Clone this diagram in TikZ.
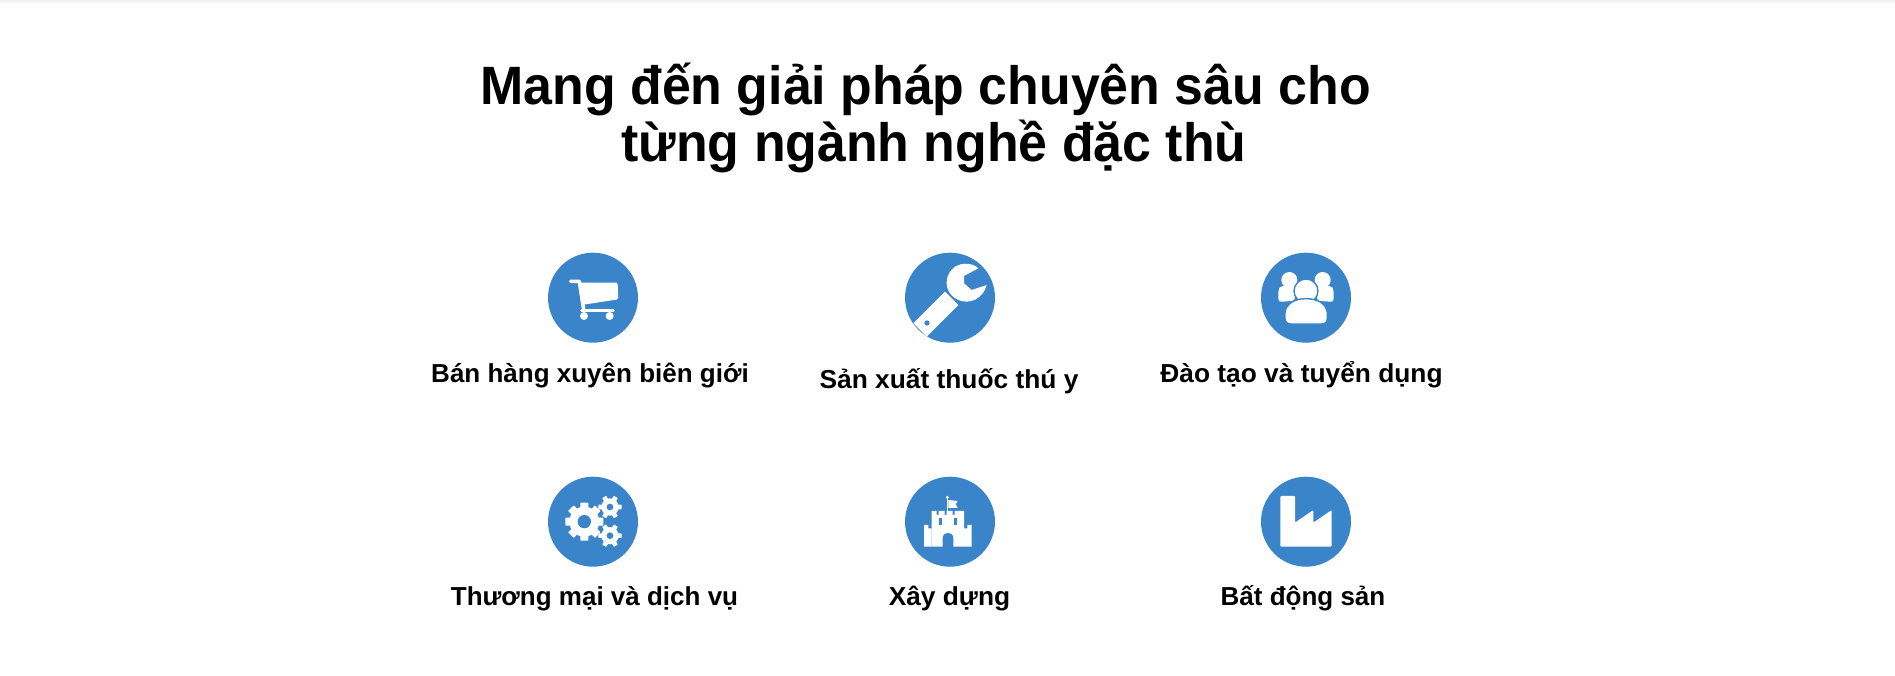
\documentclass[tikz,border=0pt]{standalone}
\usepackage{fontspec}
\newfontfamily\titlefont{Liberation Sans Bold}
\newfontfamily\labelfont{Liberation Sans Bold}
\definecolor{iconblue}{HTML}{3A84C9}
\definecolor{topbar}{HTML}{F4F3F1}
\newcommand{\zgear}[7]{% cx cy R body hole toothwidth startangle-list
  \foreach \a in {#7}{\fill[white,rounded corners=0.6pt,rotate around={\a:(#1,#2)}] (#1-#3,#2-#6/2) rectangle (#1+#3,#2+#6/2);}
  \fill[white] (#1,#2) circle[radius=#4];
  \fill[iconblue] (#1,#2) circle[radius=#5];}
\newcommand{\titleline}[1]{\scalebox{0.96}[1]{#1}}
\newcommand{\captionline}[1]{\scalebox{1.012}[1]{#1}}
\tikzset{
  iconbg/.style={circle,fill=iconblue,minimum size=90pt,inner sep=0pt,outer sep=0pt},
  caption/.style={anchor=base,inner sep=0pt,text=black,font=\labelfont\fontsize{26}{26}\selectfont},
  headline/.style={anchor=base,inner sep=0pt,text=black,font=\titlefont\fontsize{54}{54}\selectfont},
  zoomed/.style={x=0.3333pt,y=-0.3333pt},
}
\begin{document}
\begin{tikzpicture}[x=1pt,y=-1pt]
\useasboundingbox (0,0) rectangle (1895,676);
\fill[white] (0,0) rectangle (1895,676);
\fill[topbar] (0,0) rectangle (1895,3);
\node[headline] (t1) at (925.7,105) {\titleline{Mang đến giải pháp chuyên sâu cho}};
\node[headline] (t2) at (934,162) {\titleline{từng ngành nghề đặc thù}};
\node[iconbg] (c1) at (593,297.7) {};
\node[iconbg] (c2) at (950,297.7) {};
\node[iconbg] (c3) at (1306,297.7) {};
\node[iconbg] (c4) at (593,521.7) {};
\node[iconbg] (c5) at (950,521.7) {};
\node[iconbg] (c6) at (1306,521.7) {};
\node[caption] (l1) at (590,382) {Bán hàng xuyên biên giới};
\node[caption] (l2) at (949,388) {\captionline{Sản xuất thuốc thú y}};
\node[caption] (l3) at (1301.5,382) {\captionline{Đào tạo và tuyển dụng}};
\node[caption] (l4) at (594.5,605) {Thương mại và dịch vụ};
\node[caption] (l5) at (949.5,605) {\captionline{Xây dựng}};
\node[caption] (l6) at (1303,605) {Bất động sản};
% cart
\begin{scope}[shift={(530,240)},zoomed]
\draw[white,line width=3.6pt,line cap=round,line join=round] (122,124) -- (148,124) -- (161,208);
\fill[white,rounded corners=1.5pt] (146,128) -- (263,128) -- (265,178) -- (154,195) -- cycle;
\draw[white,line width=3pt,line cap=round] (155,212) -- (250,212);
\fill[white] (162,228) circle[radius=12];
\fill[white] (239,228) circle[radius=12];
\end{scope}
% wrench
\begin{scope}[shift={(890,240)},zoomed]
\fill[white] (265,85) .. controls (245,65) and (200,65) .. (180,95) .. controls (160,125) and (170,165) .. (205,180) .. controls (240,195) and (280,175) .. (290,135) -- (245,150) -- (222,130) -- (222,108) -- cycle;
\fill[white] (165,155) -- (70,250) -- (110,290) -- (205,195) -- cycle;
\fill[iconblue] (111,249) circle[radius=8];
\end{scope}
% people
\begin{scope}[shift={(1245,240)},zoomed]
\fill[white] (133,120) circle[radius=24];
\fill[white] (233,120) circle[radius=24];
\fill[white,rounded corners=3pt] (100,148) -- (108,138) -- (150,136) -- (150,182) -- (100,186) -- cycle;
\fill[white,rounded corners=3pt] (266,148) -- (258,138) -- (216,136) -- (216,182) -- (266,186) -- cycle;
\filldraw[fill=white,draw=iconblue,line width=1.4pt] (183,153) circle[radius=36];
\filldraw[fill=white,draw=iconblue,line width=1.4pt] (120,235) -- (120,218) .. controls (123,190) and (150,176) .. (183,176) .. controls (216,176) and (244,190) .. (247,218) -- (247,235) .. controls (247,246) and (241,252) .. (230,252) -- (137,252) .. controls (126,252) and (120,246) .. (120,235) -- cycle;
\end{scope}
% gears
\begin{scope}[shift={(530,465)},zoomed]
\zgear{163}{170}{57}{45}{20}{24}{0,45,90,135}
\zgear{240}{126}{35}{26}{10}{14}{0,60,120}
\zgear{240}{212}{35}{26}{10}{14}{0,60,120}
\end{scope}
% castle
\begin{scope}[shift={(890,465)},zoomed]
\draw[white,line width=1.3pt] (172,98) -- (172,140);
\fill[white] (172,97) circle[radius=5];
\fill[white] (175,105) -- (203,108) -- (197,117) -- (203,129) -- (175,129) -- cycle;
\fill[white] (125,138) -- (140,138) -- (140,150) -- (146,150) -- (146,138) -- (164,138) -- (164,150) -- (170,150) -- (170,138) -- (188,138) -- (188,150) -- (194,150) -- (194,138) -- (222,138) -- (222,245) -- (125,245) -- cycle;
\fill[white] (102,180) -- (115,180) -- (115,190) -- (125,190) -- (125,245) -- (102,245) -- cycle;
\fill[white] (245,180) -- (232,180) -- (232,190) -- (222,190) -- (222,245) -- (245,245) -- cycle;
\fill[iconblue] (148,158) rectangle (156,180);
\fill[iconblue] (192,158) rectangle (200,180);
\fill[iconblue] (158,247) -- (158,220) .. controls (158,198) and (190,198) .. (190,220) -- (190,247) -- cycle;
\end{scope}
% factory
\begin{scope}[shift={(1245,465)},zoomed]
\fill[white,rounded corners=1pt] (106,93) -- (150,93) -- (150,173) -- (205,135) -- (205,173) -- (260,135) -- (260,245) -- (106,245) -- cycle;
\end{scope}
\end{tikzpicture}
\end{document}
